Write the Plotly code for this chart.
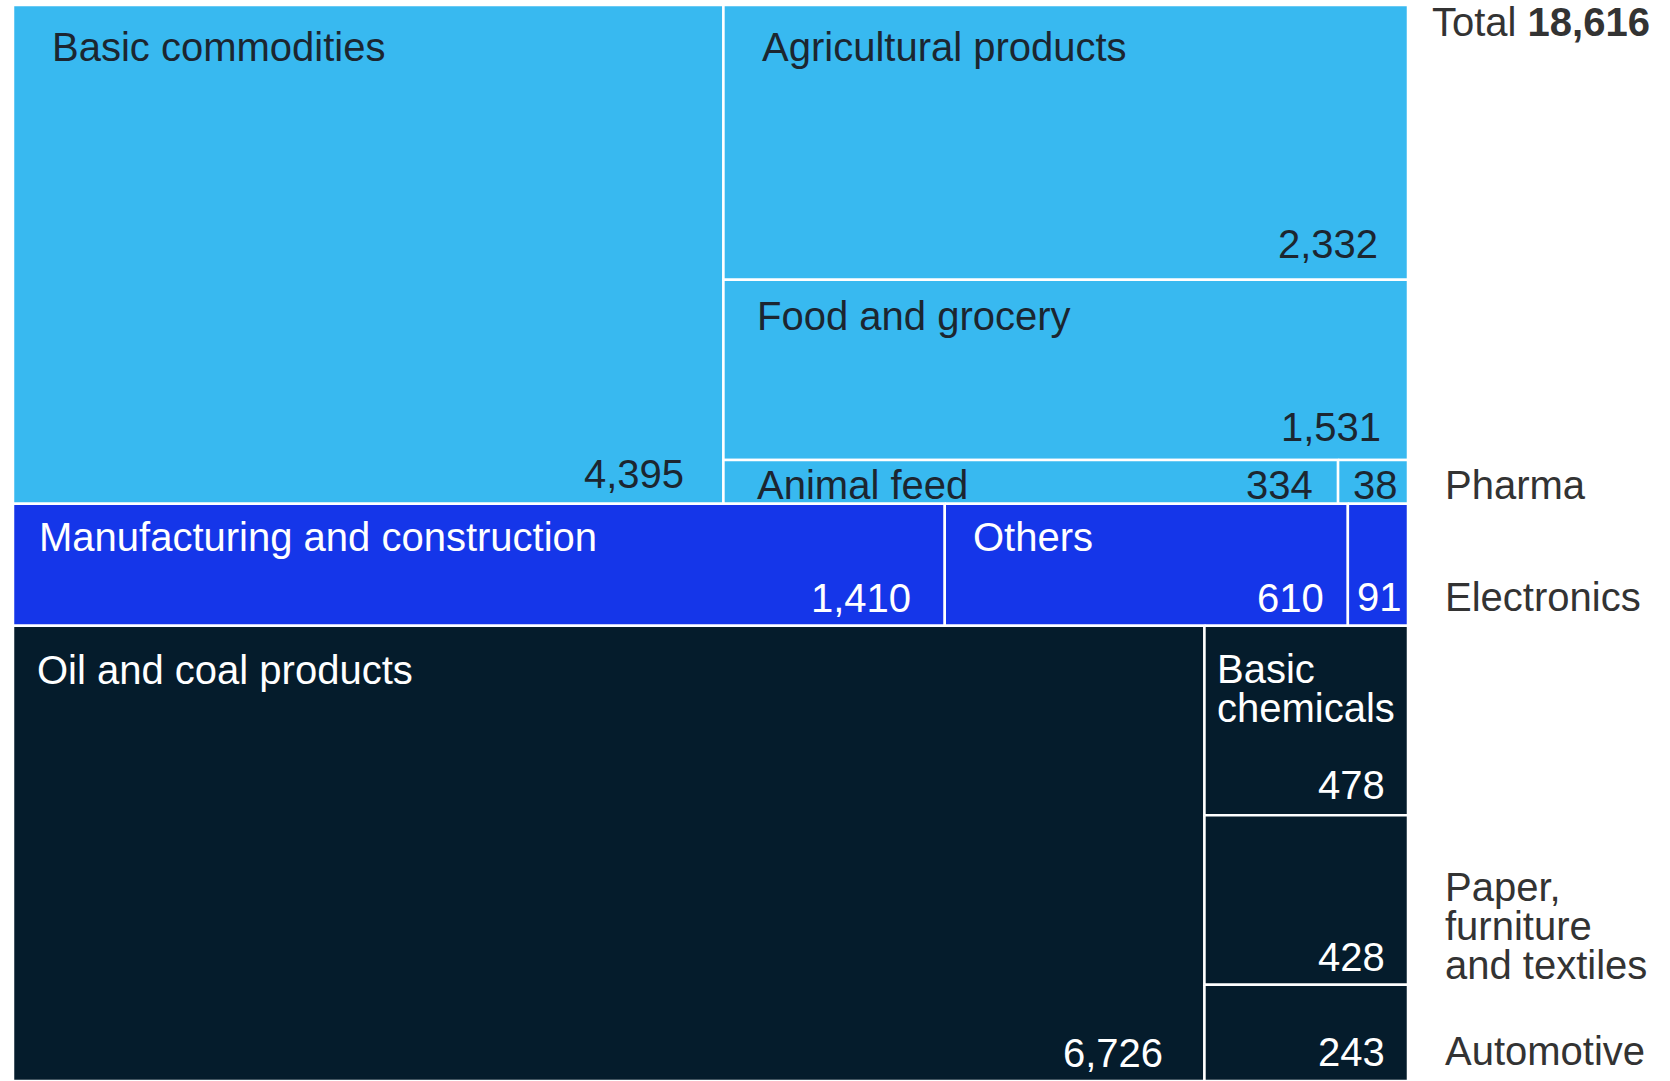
import plotly.graph_objects as go

# ---------------- data ----------------
top_names = ["Basic commodities", "Agricultural products", "Food and grocery", "Animal feed", "Pharma"]
top_values = [4395, 2332, 1531, 334, 38]

mid_names = ["Manufacturing and construction", "Others", "Electronics"]
mid_values = [1410, 610, 91]

bot_names = ["Oil and coal products", "Basic chemicals", "Paper, furniture and textiles", "Automotive"]
bot_values = [6726, 478, 428, 243]

total_label = "Total"

# ---------------- style ----------------
C_LIGHT = "#38B9F0"
C_BLUE = "#1536E9"
C_NAVY = "#051C2C"
TXT_DARK = "#1c2630"
TXT_LIGHT = "#ffffff"
TXT_SIDE = "#333333"
FONT = "Liberation Sans, Arial, Helvetica, sans-serif"
FS = 40
FS_BASE_MULTI = 30  # base size controlling line spacing of wrapped labels

W, H = 1670, 1081
ML, MR, MT, MB = 13, 262, 5, 0

# ---------------- layout computation (slice-and-dice from values) ----------------
total = sum(top_values) + sum(mid_values) + sum(bot_values)
s_top, s_mid, s_bot = sum(top_values), sum(mid_values), sum(bot_values)

rects = {}  # name -> (x0, y0, x1, y1) in unit coords, y downward
y_a = 0.0
y_b = s_top / total
y_c = y_b + s_mid / total
y_d = 1.0

# top band
bc_w = top_values[0] / s_top
rects[top_names[0]] = (0.0, y_a, bc_w, y_b)
rest = sum(top_values[1:])
yy = y_a
for nm, v in zip(top_names[1:3], top_values[1:3]):
    h = (y_b - y_a) * v / rest
    rects[nm] = (bc_w, yy, 1.0, yy + h)
    yy += h
row_sum = top_values[3] + top_values[4]
xx = bc_w
for nm, v in zip(top_names[3:], top_values[3:]):
    w = (1.0 - bc_w) * v / row_sum
    rects[nm] = (xx, yy, xx + w, y_b)
    xx += w

# middle band
xx = 0.0
for nm, v in zip(mid_names, mid_values):
    w = v / s_mid
    rects[nm] = (xx, y_b, xx + w, y_c)
    xx += w

# bottom band
oil_w = bot_values[0] / s_bot
rects[bot_names[0]] = (0.0, y_c, oil_w, y_d)
rest = sum(bot_values[1:])
yy = y_c
for nm, v in zip(bot_names[1:], bot_values[1:]):
    h = (y_d - y_c) * v / rest
    rects[nm] = (oil_w, yy, 1.0, yy + h)
    yy += h

colors = {}
for nm in top_names:
    colors[nm] = C_LIGHT
for nm in mid_names:
    colors[nm] = C_BLUE
for nm in bot_names:
    colors[nm] = C_NAVY

values = dict(zip(top_names + mid_names + bot_names, top_values + mid_values + bot_values))

fig = go.Figure()

# cells drawn as filled traces on the data axes
for nm, (x0, y0, x1, y1) in rects.items():
    fig.add_trace(go.Scatter(
        x=[x0, x1, x1, x0, x0], y=[y0, y0, y1, y1, y0],
        mode="lines", fill="toself", fillcolor=colors[nm],
        line=dict(color="white", width=2.5),
        hoverinfo="text", text=f"{nm}: {values[nm]:,}", showlegend=False,
    ))


def txt_color(nm):
    return TXT_DARK if colors[nm] == C_LIGHT else TXT_LIGHT


ann = []


def add(text, x, y, xanchor, xshift, yshift, color, bold=False, size=FS):
    ann.append(dict(
        text=(f"<b>{text}</b>" if bold else text), x=x, y=y, xref="x", yref="y",
        xanchor=xanchor, yanchor="middle", xshift=xshift, yshift=yshift,
        showarrow=False, align="left", font=dict(family=FONT, size=size, color=color),
    ))


def multiline(lines):
    return "<br>".join(f'<span style="font-size:{FS}px">{ln}</span>' for ln in lines)


# inner name labels: name -> (xshift, yshift from top-left corner)
name_pos = {
    "Basic commodities": (37, -42),
    "Agricultural products": (37, -42),
    "Food and grocery": (32, -36),
    "Manufacturing and construction": (24, -33),
    "Others": (26, -33),
    "Oil and coal products": (22, -44),
}
for nm, (dx, dy) in name_pos.items():
    x0, y0, x1, y1 = rects[nm]
    add(nm, x0, y0, "left", dx, dy, txt_color(nm))

# Animal feed (vertically centred)
x0, y0, x1, y1 = rects["Animal feed"]
add("Animal feed", x0, (y0 + y1) / 2, "left", 32, -3, TXT_DARK)

# Basic chemicals (two lines)
x0, y0, x1, y1 = rects["Basic chemicals"]
add(multiline(["Basic", "chemicals"]), x0, y0, "left", 11, -63, TXT_LIGHT, size=FS_BASE_MULTI)

# value labels: name -> (xshift, yshift from bottom-right corner)
val_pos = {
    "Basic commodities": (-37, 30),
    "Agricultural products": (-28, 36),
    "Food and grocery": (-25, 33),
    "Manufacturing and construction": (-32, 28),
    "Others": (-22, 28),
    "Oil and coal products": (-39, 28),
    "Basic chemicals": (-21, 30),
    "Paper, furniture and textiles": (-21, 28),
    "Automotive": (-21, 29),
}
for nm, (dx, dy) in val_pos.items():
    x0, y0, x1, y1 = rects[nm]
    add(f"{values[nm]:,}", x1, y1, "right", dx, dy, txt_color(nm))

x0, y0, x1, y1 = rects["Animal feed"]
add(f"{values['Animal feed']:,}", x1, (y0 + y1) / 2, "right", -23, -3, TXT_DARK)
x0, y0, x1, y1 = rects["Pharma"]
add(f"{values['Pharma']:,}", (x0 + x1) / 2, (y0 + y1) / 2, "center", 2, -3, TXT_DARK)
x0, y0, x1, y1 = rects["Electronics"]
add(f"{values['Electronics']:,}", (x0 + x1) / 2, y1, "center", 2, 29, TXT_LIGHT)

# side labels
x0, y0, x1, y1 = rects["Pharma"]
add("Pharma", 1.0, (y0 + y1) / 2, "left", 35, -3, TXT_SIDE)
x0, y0, x1, y1 = rects["Electronics"]
add("Electronics", 1.0, y1, "left", 35, 29, TXT_SIDE)
x0, y0, x1, y1 = rects["Paper, furniture and textiles"]
add(multiline(["Paper,", "furniture", "and textiles"]), 1.0, y1, "left", 35, 59, TXT_SIDE,
    size=FS_BASE_MULTI)
x0, y0, x1, y1 = rects["Automotive"]
add("Automotive", 1.0, y1, "left", 35, 30, TXT_SIDE)

# total
add(f"{total_label} <b>{total:,}</b>", 1.0, 0.0, "left", 22, -17, TXT_SIDE)

fig.update_layout(
    width=W, height=H,
    margin=dict(l=ML, r=MR, t=MT, b=MB, pad=0),
    paper_bgcolor="white", plot_bgcolor="white",
    xaxis=dict(range=[0, 1], visible=False, fixedrange=True),
    yaxis=dict(range=[1, 0], visible=False, fixedrange=True),
    annotations=ann,
    showlegend=False,
    hovermode="closest",
)

fig.write_html("out.html", config={"displayModeBar": False},
               post_script="document.body.style.margin='0';")
